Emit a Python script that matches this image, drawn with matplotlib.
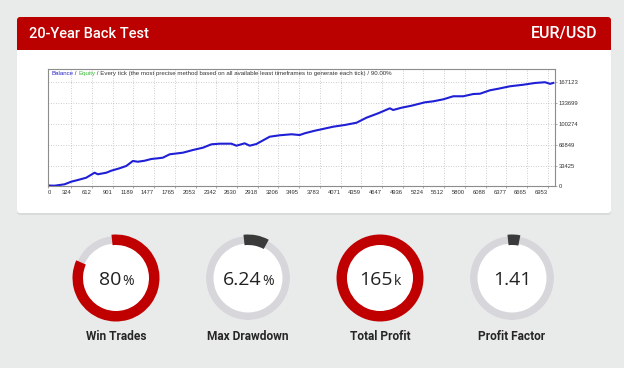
import matplotlib.pyplot as plt
from matplotlib.patches import Wedge, FancyBboxPatch, Rectangle, Circle

# balance curve (trade number, balance)
trade_no = [0, 91, 230, 323, 415, 532, 648, 694, 811, 880, 996, 1089, 1181, 1251,
            1344, 1438, 1530, 1599, 1693, 1878, 2017, 2156, 2273, 2389, 2552, 2622,
            2737, 2807, 2900, 3085, 3225, 3388, 3503, 3573, 3712, 3806, 3967, 4130,
            4293, 4432, 4594, 4757, 4803, 4920, 5059, 5245, 5360, 5500, 5639, 5778,
            5917, 6011, 6150, 6266, 6429, 6614, 6777, 6916, 6986, 7032]
balance = [1600, 1300, 3500, 7700, 10400, 14100, 22100, 19600, 22100, 25300, 29200,
           32900, 40900, 39700, 41300, 44100, 45200, 46200, 51600, 54200, 58500,
           62200, 67600, 68600, 68600, 65400, 69200, 65400, 68100, 79800, 82100,
           83700, 82500, 85300, 89400, 91700, 95800, 98600, 102200, 110300, 117300,
           125300, 122600, 126300, 129500, 134900, 136500, 139700, 144600, 144600,
           148200, 148700, 154200, 156700, 160600, 163100, 165900, 167100, 164500,
           166000]

x_ticks = [0, 324, 612, 901, 1189, 1477, 1765, 2053, 2342, 2630, 2918, 3206, 3495,
           3783, 4071, 4359, 4647, 4936, 5224, 5512, 5800, 6088, 6377, 6665, 6953]
y_ticks = [0, 33425, 66849, 100274, 133699, 167123]

# summary gauges
stat_labels = ['Win Trades', 'Max Drawdown', 'Total Profit', 'Profit Factor']
stat_values = ['80', '6.24', '165', '1.41']
stat_suffix = ['%', '%', 'k', '']
gauge_pct = [80, 6.24, 100, 1.41]
gauge_colors = ['#c00000', '#3a3a3a', '#c00000', '#3a3a3a']

W, H = 624, 368
fig = plt.figure(figsize=(W / 100, H / 100), dpi=100)
fig.patch.set_facecolor('#e9eaea')

bg = fig.add_axes([0, 0, 1, 1])
bg.set_xlim(0, W)
bg.set_ylim(0, H)
bg.axis('off')

# card + header
bg.add_patch(FancyBboxPatch((17, H - 215), 594, 197, boxstyle='round,pad=0,rounding_size=3',
                            fc='#d9dada', ec='none'))
bg.add_patch(FancyBboxPatch((17, H - 213), 594, 196, boxstyle='round,pad=0,rounding_size=3',
                            fc='white', ec='none'))
bg.add_patch(FancyBboxPatch((17, H - 50), 594, 33, boxstyle='round,pad=0,rounding_size=3',
                            fc='#bb0000', ec='none'))
bg.add_patch(Rectangle((17, H - 50), 594, 10, fc='#bb0000', ec='none'))
bg.text(29, H - 33.5, '20-Year Back Test', color='white', fontsize=10.5, family='Roboto',
        fontweight='medium', va='center', ha='left')
bg.text(598, H - 33.5, 'EUR/USD', color='white', fontsize=11.5, family='Roboto',
        fontweight='medium', va='center', ha='right')

# back-test graph
ax = fig.add_axes([48 / W, 1 - 186.5 / H, 507 / W, 117.5 / H])
ax.plot(trade_no, balance, color='#1f1fd6', lw=1.5)
ax.set_xlim(0, 7055)
ax.set_ylim(0, 188300)
ax.set_xticks(x_ticks)
ax.set_xticklabels([str(v) for v in x_ticks], fontsize=4.2, family='Liberation Sans', color='#333333')
for i, lbl in enumerate(ax.get_xticklabels()):
    lbl.set_ha('left' if i == 0 else 'right')
ax.yaxis.tick_right()
ax.set_yticks(y_ticks)
ax.set_yticklabels([str(v) for v in y_ticks], fontsize=4.2, family='Liberation Sans', color='#333333')
ax.tick_params(length=1.5, width=0.5, pad=1, color='#888888')
ax.grid(True, ls=(0, (1, 2)), color='#bdbdbd', lw=0.6)
for s in ax.spines.values():
    s.set_color('#8c8c8c')
    s.set_linewidth(0.8)

t = ax.text(0.006, 0.985, 'Balance', transform=ax.transAxes, color='#2525c8', fontsize=4.45,
            family='Liberation Sans', va='top', ha='left')
pieces = [(' / ', '#333333'), ('Equity', '#33bb33'),
          (' / Every tick (the most precise method based on all available least timeframes '
           'to generate each tick) / 90.00%', '#333333')]
for txt, col in pieces:
    t = ax.annotate(txt, xy=(1, 0), xycoords=t, va='bottom', ha='left', color=col,
                    fontsize=4.45, family='Liberation Sans')

# gauges
renderer = fig.canvas.get_renderer()
cy = H - 278
for i in range(4):
    cx = 116 + i * 132
    bg.add_patch(Circle((cx, cy), 42, fc='white', ec='none'))
    bg.add_patch(Wedge((cx, cy), 42, 0, 360, width=7.5, fc='#d6d6db', ec='none'))
    span = gauge_pct[i] / 100 * 360
    cap = 6
    if span + 2 * cap >= 360:
        th1, th2 = 0, 360
    else:
        th1, th2 = 90 - span - cap, 90 + cap
    bg.add_patch(Wedge((cx, cy), 43.5, th1, th2, width=10.5, fc=gauge_colors[i], ec='none'))

    num = bg.text(cx, cy - 7, stat_values[i], fontsize=14, family='Open Sans', color='#222222',
                  ha='left', va='baseline')
    suf = bg.annotate(stat_suffix[i], xy=(1, 0), xycoords=num, xytext=(0.3, 0),
                      textcoords='offset points', fontsize=10, family='Open Sans',
                      color='#222222', ha='left', va='bottom')
    w1 = num.get_window_extent(renderer).width
    w2 = suf.get_window_extent(renderer).width if stat_suffix[i] else 0
    num.set_x(cx - (w1 + w2) / 2)

    bg.text(cx, H - 337, stat_labels[i], fontsize=8.6, family='Roboto', fontweight='bold',
            color='#262626', ha='center', va='center')

fig.savefig('out.png', dpi=100, facecolor=fig.get_facecolor())
